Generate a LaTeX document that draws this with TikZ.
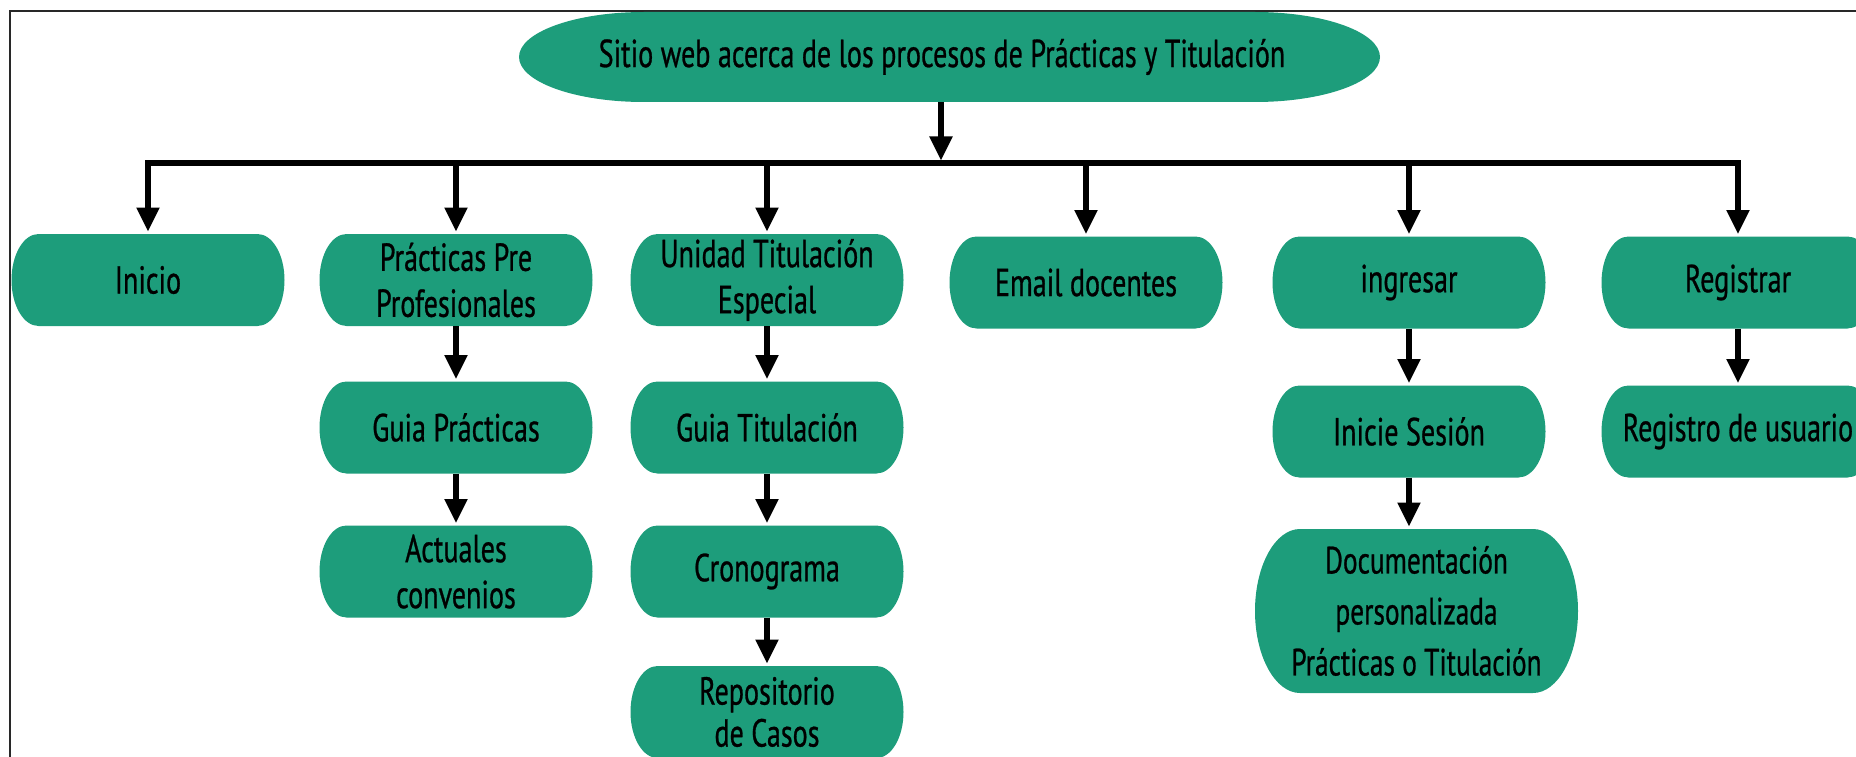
\documentclass[tikz,border=0pt]{standalone}
\usepackage{fontspec}
\newfontfamily\boxfont{PT Sans}[FakeStretch=0.72,FakeBold=0.7]
\usetikzlibrary{arrows.meta,shapes.geometric}
\definecolor{boxgreen}{RGB}{29,157,123}
\definecolor{framegray}{RGB}{40,40,40}

\makeatletter
\newdimen\pill@l \newdimen\pill@r \newdimen\pill@b \newdimen\pill@t
\newdimen\pill@rx \newdimen\pill@ry
\pgfkeys{/pgf/pill rx/.initial=27pt}
\pgfdeclareshape{pill}{%
  \inheritsavedanchors[from=rectangle]%
  \inheritanchorborder[from=rectangle]%
  \inheritanchor[from=rectangle]{center}%
  \inheritanchor[from=rectangle]{north}%
  \inheritanchor[from=rectangle]{south}%
  \inheritanchor[from=rectangle]{east}%
  \inheritanchor[from=rectangle]{west}%
  \inheritanchor[from=rectangle]{mid}%
  \inheritanchor[from=rectangle]{base}%
  \inheritanchor[from=rectangle]{text}%
  \backgroundpath{%
    \southwest \pill@l=\pgf@x \pill@b=\pgf@y
    \northeast \pill@r=\pgf@x \pill@t=\pgf@y
    \pgfmathsetlength\pill@rx{\pgfkeysvalueof{/pgf/pill rx}}%
    \pill@ry=\pill@t \advance\pill@ry by -\pill@b \pill@ry=.5\pill@ry
    \pgfpathmoveto{\pgfqpoint{\dimexpr\pill@l+\pill@rx\relax}{\pill@b}}%
    \pgfpathlineto{\pgfqpoint{\dimexpr\pill@r-\pill@rx\relax}{\pill@b}}%
    \edef\pill@arc{\noexpand\pgfpatharc{-90}{90}{\the\pill@rx\space and \the\pill@ry}}\pill@arc
    \pgfpathlineto{\pgfqpoint{\dimexpr\pill@l+\pill@rx\relax}{\pill@t}}%
    \edef\pill@arc{\noexpand\pgfpatharc{90}{270}{\the\pill@rx\space and \the\pill@ry}}\pill@arc
    \pgfpathclose
  }%
}
\makeatother

\tikzset{
  box/.style={shape=pill, fill=boxgreen, minimum width=273pt, minimum height=92pt,
    inner sep=0pt, outer sep=0pt, align=center, text=black,
    font=\boxfont\fontsize{39}{46}\selectfont},
  bigbox/.style={box, minimum width=323pt, minimum height=164pt, /pgf/pill rx=45pt,
    font=\boxfont\fontsize{38}{51}\selectfont},
  titlebox/.style={shape=pill, /pgf/pill rx=125pt, fill=boxgreen, minimum width=861pt, minimum height=90pt,
    inner sep=0pt, outer sep=0pt, text=black, font=\boxfont\fontsize{39}{46}\selectfont},
  conn/.style={line width=5.2pt, -{Triangle[width=22pt,length=24pt]}, shorten >=2.5pt},
  frame/.style={draw=framegray, line width=1.3pt},
}

\begin{document}
\begin{tikzpicture}[x=1pt,y=-1pt]
\useasboundingbox (0,0) rectangle (1856,757);
\clip (0,0) rectangle (1856,757);
\draw[frame] (10,11) rectangle (1900,800);

% title
\node[titlebox] (top) at (949.5,57) {\makebox[0pt]{\hspace*{-15pt}Sitio web acerca de los procesos de Prácticas y Titulación}};

% row 1
\node[box] (inicio) at (148,280) {Inicio};
\node[box] (prac) at (456,280) {Prácticas Pre\\Profesionales};
\node[box] (unidad) at (767,280) {Unidad Titulación\\Especial};
\node[box] (email) at (1086,282.5) {Email docentes};
\node[box] (ingresar) at (1409,282.5) {ingresar};
\node[box] (registrar) at (1738,282.5) {Registrar};

% row 2
\node[box] (gprac) at (456,427.5) {Guia Prácticas};
\node[box] (gtit) at (767,427.5) {Guia Titulación};
\node[box] (inicie) at (1409,431.5) {Inicie Sesión};
\node[box] (regusr) at (1738,431.5) {Registro de usuario};

% row 3
\node[box] (actuales) at (456,571.5) {Actuales\\convenios};
\node[box] (crono) at (767,571.5) {Cronograma};
\node[bigbox] (doc) at (1416.5,611) {Documentación\\personalizada\\Prácticas o Titulación};

% row 4
\node[box, font=\boxfont\fontsize{39}{42}\selectfont] (repo) at (767,712) {Repositorio\\de Casos};

% connectors
\coordinate (bus) at (941,163);
\draw[conn] (top.south -| bus) -- (bus);
\foreach \n in {inicio,prac,unidad,email,ingresar,registrar}
  \draw[conn] (bus) -| (\n.north);

\draw[conn] (prac.south) -- (gprac.north);
\draw[conn] (gprac.south) -- (actuales.north);
\draw[conn] (unidad.south) -- (gtit.north);
\draw[conn] (gtit.south) -- (crono.north);
\draw[conn] (crono.south) -- (repo.north);
\draw[conn] (ingresar.south) -- (inicie.north);
\draw[conn] (inicie.south) -- (inicie.south |- doc.north);
\draw[conn] (registrar.south) -- (regusr.north);
\end{tikzpicture}
\end{document}
